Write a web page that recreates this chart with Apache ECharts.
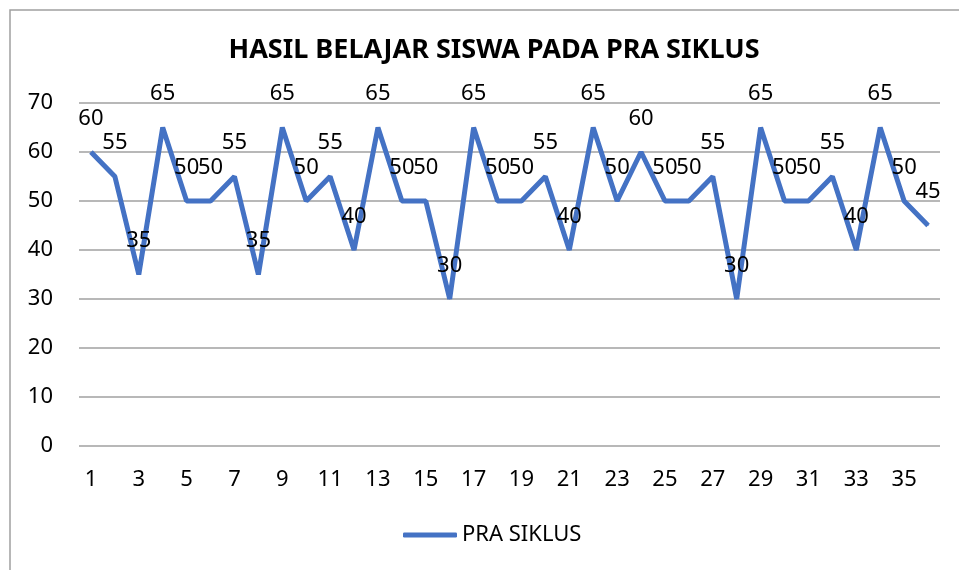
<!DOCTYPE html>
<html>
<head>
<meta charset="utf-8">
<script src="https://cdn.jsdelivr.net/npm/echarts@6/dist/echarts.min.js"></script>
<style>
  html, body { margin: 0; padding: 0; background: #fff; }
  #chart { width: 959px; height: 570px; }
</style>
</head>
<body>
<div id="chart"></div>
<script>
const titleText = "HASIL BELAJAR SISWA PADA PRA SIKLUS";
const seriesName = "PRA SIKLUS";
const students = [];
for (let i = 1; i <= 36; i++) students.push(String(i));
const scores = [60, 55, 35, 65, 50, 50, 55, 35, 65, 50, 55, 40, 65, 50, 50, 30, 65, 50,
  50, 55, 40, 65, 50, 60, 50, 50, 55, 30, 65, 50, 50, 55, 40, 65, 50, 45];

const chart = echarts.init(document.getElementById("chart"), null, { renderer: "canvas" });
const font = "'Noto Sans', sans-serif";

chart.setOption({
  animation: false,
  textStyle: { fontFamily: font },
  graphic: [
    {
      type: "rect",
      shape: { x: 10, y: 10, width: 1000, height: 1000 },
      style: { fill: "none", stroke: "#a0a0a0", lineWidth: 1.5 },
      silent: true,
    },
  ],
  title: {
    text: titleText,
    left: 489,
    textAlign: "center",
    top: 32,
    textStyle: { fontFamily: font, fontSize: 27, fontWeight: "bold", color: "#000" },
  },
  legend: {
    bottom: 19,
    left: 398,
    icon: "roundRect",
    itemWidth: 54,
    itemHeight: 5,
    itemGap: 4,
    textStyle: { fontFamily: font, fontSize: 22, color: "#000" },
    data: [seriesName],
  },
  grid: { left: 79, right: 19, top: 103, bottom: 124 },
  xAxis: {
    type: "category",
    data: students,
    boundaryGap: true,
    axisLine: { show: false },
    axisTick: { show: false },
    axisLabel: { interval: 1, fontFamily: font, fontSize: 22, color: "#000", margin: 23 },
  },
  yAxis: {
    type: "value",
    min: 0,
    max: 70,
    interval: 10,
    axisLine: { show: false },
    axisTick: { show: false },
    axisLabel: { fontFamily: font, fontSize: 22, color: "#000", margin: 26, align: "right" },
    splitLine: { lineStyle: { color: "#a0a0a0", width: 1.5 } },
  },
  series: [
    {
      name: seriesName,
      type: "line",
      data: scores,
      symbol: "circle",
      symbolSize: 1,
      showSymbol: true,
      lineStyle: { color: "#4472C4", width: 5 },
      itemStyle: { color: "#4472C4" },
      label: {
        show: true,
        position: "top",
        distance: 22,
        fontFamily: font,
        fontSize: 22,
        color: "#000",
      },
    },
  ],
});
</script>
</body>
</html>
